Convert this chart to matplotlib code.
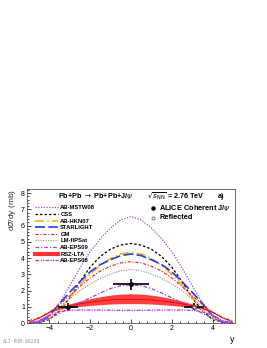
import numpy as np
import matplotlib
matplotlib.use("Agg")
import matplotlib.pyplot as plt
from matplotlib.ticker import MultipleLocator

plt.rcParams['font.family'] = ['Liberation Sans', 'DejaVu Sans']

# rapidity grid
y = [-5.0, -4.5, -4.0, -3.5, -3.0, -2.5, -2.0, -1.5, -1.0, -0.5, 0.0,
     0.5, 1.0, 1.5, 2.0, 2.5, 3.0, 3.5, 4.0, 4.5, 5.0]

ab_mstw08 = [0.0, 0.12, 0.5, 1.25, 2.3, 3.4, 4.4, 5.2, 5.85, 6.35, 6.55,
             6.35, 5.85, 5.2, 4.4, 3.4, 2.3, 1.25, 0.5, 0.12, 0.0]
css = [0.0, 0.03, 0.22, 0.75, 1.55, 2.55, 3.45, 4.1, 4.55, 4.8, 4.9,
       4.8, 4.55, 4.1, 3.45, 2.55, 1.55, 0.75, 0.22, 0.03, 0.0]
ab_hkn07 = [0.0, 0.04, 0.27, 0.78, 1.6, 2.35, 3.0, 3.55, 3.98, 4.25, 4.35,
            4.25, 3.98, 3.55, 3.0, 2.35, 1.6, 0.78, 0.27, 0.04, 0.0]
starlight = [0.0, 0.02, 0.45, 1.2, 1.9, 2.55, 3.15, 3.6, 3.9, 4.15, 4.25,
             4.15, 3.9, 3.6, 3.15, 2.55, 1.9, 1.2, 0.45, 0.02, 0.0]
gm = [0.15, 0.33, 0.65, 1.15, 1.68, 2.25, 2.78, 3.2, 3.5, 3.7, 3.78,
      3.7, 3.5, 3.2, 2.78, 2.25, 1.68, 1.15, 0.65, 0.33, 0.15]
lm_fipsat = [0.0, 0.08, 0.45, 0.98, 1.5, 2.0, 2.4, 2.75, 3.02, 3.22, 3.3,
             3.22, 3.02, 2.75, 2.4, 2.0, 1.5, 0.98, 0.45, 0.08, 0.0]
ab_eps09 = [0.0, 0.07, 0.3, 0.6, 0.92, 1.25, 1.55, 1.85, 2.12, 2.3, 2.35,
            2.3, 2.12, 1.85, 1.55, 1.25, 0.92, 0.6, 0.3, 0.07, 0.0]
rsz_lo = [0.05, 0.3, 0.65, 0.85, 0.95, 1.02, 1.08, 1.13, 1.17, 1.19, 1.2,
          1.19, 1.17, 1.13, 1.08, 1.02, 0.95, 0.85, 0.65, 0.3, 0.05]
rsz_hi = [0.06, 0.35, 0.72, 0.98, 1.18, 1.35, 1.5, 1.62, 1.72, 1.78, 1.8,
          1.78, 1.72, 1.62, 1.5, 1.35, 1.18, 0.98, 0.72, 0.35, 0.06]
rsz_mid = [0.055, 0.32, 0.68, 0.91, 1.06, 1.18, 1.28, 1.36, 1.42, 1.45, 1.46,
           1.45, 1.42, 1.36, 1.28, 1.18, 1.06, 0.91, 0.68, 0.32, 0.055]
ab_eps08 = [0.0, 0.15, 0.48, 0.7, 0.78, 0.8, 0.8, 0.8, 0.79, 0.78, 0.78,
            0.78, 0.79, 0.8, 0.8, 0.8, 0.78, 0.7, 0.48, 0.15, 0.0]

# ALICE data
data_y = [-3.1, 0.0]
data_v = [1.0, 2.38]
data_xerr = [0.5, 0.9]
data_yerr = [0.22, 0.32]
refl_y = [3.1]
refl_v = [1.0]
refl_xerr = [0.5]
refl_yerr = [0.22]

fig = plt.figure(figsize=(2.67, 3.48), dpi=100)
ax = fig.add_axes([0.101, 0.0718, 0.779, 0.385])

violet = '#a23cf0'
l1, = ax.plot(y, ab_mstw08, color=violet, lw=0.9, dashes=(1, 1.2), label='AB-MSTW08')
l2, = ax.plot(y, css, color='black', lw=0.9, dashes=(2, 1.6), label='CSS')
l3, = ax.plot(y, ab_hkn07, color='#ffaa00', lw=1.1, dashes=(6, 2, 1, 2), label='AB-HKN07')
l4, = ax.plot(y, starlight, color='#1f3cff', lw=1.2, dashes=(6, 2), label='STARLIGHT')
l5, = ax.plot(y, gm, color='#ee2222', lw=0.8, dashes=(3, 1.5, 1, 1.5), label='GM')
l6, = ax.plot(y, lm_fipsat, color='#b49a8c', lw=0.9, dashes=(1, 1), label='LM-fIPSat')
l7, = ax.plot(y, ab_eps09, color=violet, lw=0.9, dashes=(3, 1.5, 1, 1.5), label='AB-EPS09')
ax.fill_between(y, rsz_lo, rsz_hi, color='#ff2a2a', alpha=0.9, lw=0)
ax.plot(y, rsz_mid, color='#cc0000', lw=0.5)
l8, = ax.plot([], [], color='#ff3333', lw=3, label='RSZ-LTA')
l9, = ax.plot(y, ab_eps08, color=violet, lw=0.9, dashes=(3, 1, 1, 1, 1, 1), label='AB-EPS08')

# data
ax.errorbar(data_y, data_v, xerr=data_xerr, yerr=data_yerr, fmt='o', color='black',
            ms=2.5, elinewidth=1.2, capsize=0, zorder=10)
ax.errorbar(refl_y, refl_v, xerr=refl_xerr, yerr=refl_yerr, fmt='o', color='black',
            mfc='white', mec='#555555', ms=2.5, elinewidth=1.2, capsize=0, zorder=10)

ax.set_xlim(-5.1, 5.1)
ax.set_ylim(0, 8.25)
ax.xaxis.set_major_locator(MultipleLocator(2))
ax.xaxis.set_minor_locator(MultipleLocator(0.4))
ax.yaxis.set_major_locator(MultipleLocator(1))
ax.yaxis.set_minor_locator(MultipleLocator(0.2))
ax.tick_params(which='both', direction='in', labelsize=5, pad=1.5, width=0.5)
ax.tick_params(which='major', length=3)
ax.tick_params(which='minor', length=1.5)
for s in ax.spines.values():
    s.set_linewidth(0.6)
    s.set_color('#555555')

ax.set_ylabel(r'd$\sigma$/dy (mb)', fontsize=6, loc='top', labelpad=2, color='#333333')
ax.set_xlabel('y', fontsize=6.5, loc='right', labelpad=2)

leg = ax.legend(handles=[l1, l2, l3, l4, l5, l6, l7, l8, l9], loc='upper left',
                bbox_to_anchor=(0.02, 0.905), frameon=False,
                labelspacing=0.26, handlelength=4.0, handletextpad=0.4,
                borderpad=0.1, prop={'weight': 'bold', 'size': 4.2})

ax.text(0.33, 0.93, r'Pb+Pb $\rightarrow$ Pb+Pb+J/$\psi$', transform=ax.transAxes,
        fontsize=5.2, fontweight='bold', ha='center', va='baseline')
ax.text(0.575, 0.93, r'$\sqrt{s_{\rm NN}}$ = 2.76 TeV', transform=ax.transAxes,
        fontsize=5.2, fontweight='bold', ha='left', va='baseline')
ax.text(0.915, 0.93, 'a)', transform=ax.transAxes,
        fontsize=5.2, fontweight='bold', ha='left', va='baseline')

ax.plot([0.605], [0.86], 'o', color='black', ms=2.2, transform=ax.transAxes, clip_on=False)
ax.text(0.635, 0.86, r'ALICE Coherent J/$\psi$', transform=ax.transAxes,
        fontsize=5.3, fontweight='bold', ha='left', va='center')
ax.plot([0.605], [0.785], 'o', mfc='white', mec='#666666', ms=2.2, mew=0.6,
        transform=ax.transAxes, clip_on=False)
ax.text(0.635, 0.785, 'Reflected', transform=ax.transAxes,
        fontsize=5.3, fontweight='bold', ha='left', va='center')

fig.text(0.01, 0.012, 'ALI-PUB-66209', fontsize=3.5, color='#999999',
         family='DejaVu Sans Mono', ha='left', va='bottom')

fig.savefig('out.png', dpi=100)
